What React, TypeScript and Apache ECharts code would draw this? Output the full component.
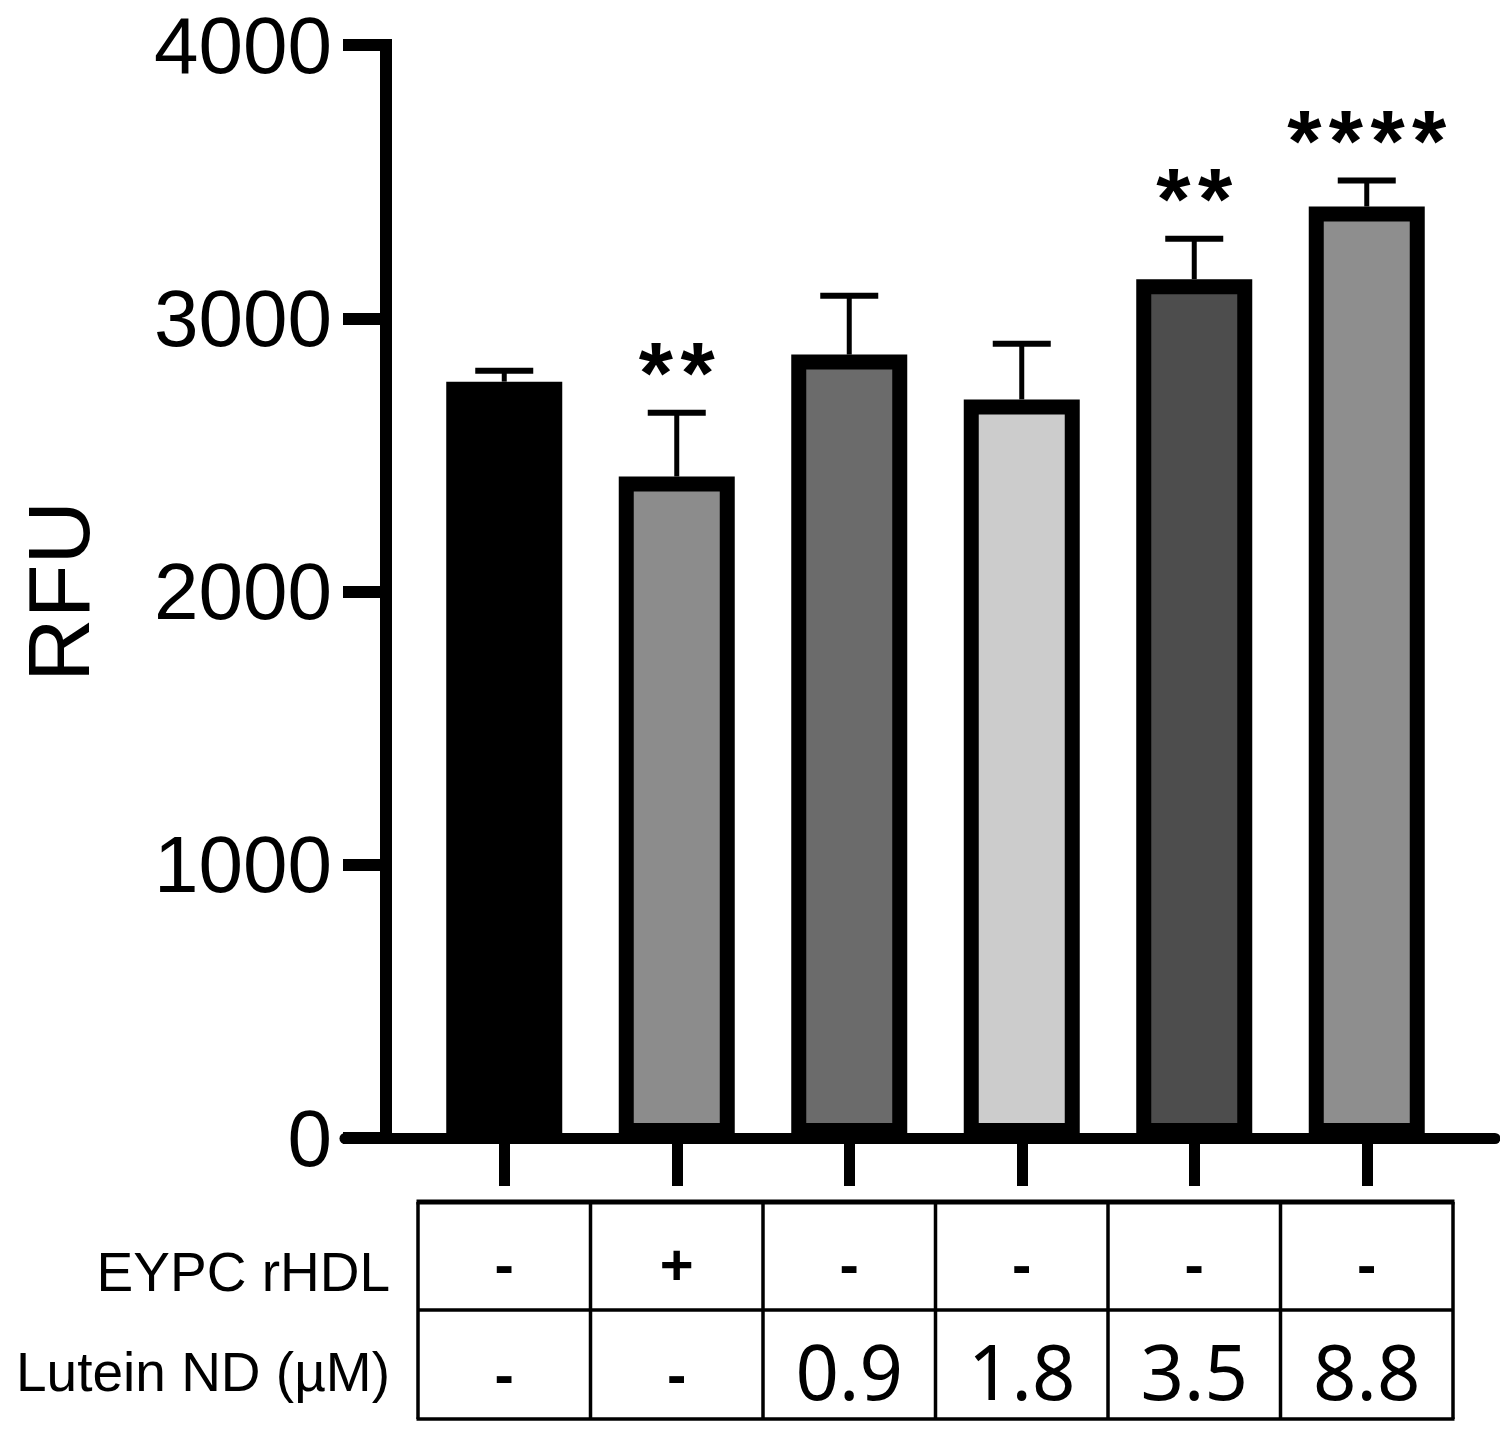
import React, { useEffect, useRef } from "react";
import * as echarts from "echarts";

// ---- data ----
const categories = ["Control", "EYPC rHDL", "Lutein 0.9", "Lutein 1.8", "Lutein 3.5", "Lutein 8.8"];
const means = [2768, 2421, 2867, 2703, 3143, 3409];
const sems = [40, 233, 215, 204, 148, 95];
const stars = ["", "**", "", "", "**", "****"];
const barColors = ["#000000", "#8c8c8c", "#6b6b6b", "#cccccc", "#4d4d4d", "#8e8e8e"];
const eypcRow = ["-", "+", "-", "-", "-", "-"];
const luteinRow = ["-", "-", "0.9", "1.8", "3.5", "8.8"];
const rowLabels = ["EYPC rHDL", "Lutein ND (\u00b5M)"];
const yTicks = [0, 1000, 2000, 3000, 4000];

const FONT = "'Liberation Sans', Arial, sans-serif";

export default function App() {
  const ref = useRef<HTMLDivElement>(null);
  useEffect(() => {
    document.body.style.margin = "0";
    const chart = echarts.init(ref.current!, null, { renderer: "svg" });
    const option: any = {
      animation: false,
      backgroundColor: "#ffffff",
      grid: [
        { left: 418, right: 47, top: 45, bottom: 292 },
        { left: 345, right: 5, top: 45, bottom: 292 },
      ],
      xAxis: [
        {
          type: "category",
          gridIndex: 0,
          data: categories,
          axisLine: { show: false },
          axisTick: { show: true, alignWithLabel: true, length: 48, lineStyle: { color: "#000", width: 11 } },
          axisLabel: { show: false },
          splitLine: { show: false },
        },
        {
          type: "value",
          gridIndex: 1,
          min: 0,
          max: 1,
          axisLine: { show: true, lineStyle: { color: "#000", width: 11 } },
          axisTick: { show: false },
          axisLabel: { show: false },
          splitLine: { show: false },
        },
      ],
      yAxis: [
        {
          type: "value",
          gridIndex: 0,
          min: yTicks[0],
          max: yTicks[yTicks.length - 1],
          interval: 1000,
          offset: 32,
          name: "RFU",
          nameLocation: "middle",
          nameRotate: 90,
          nameGap: 284,
          nameMoveOverlap: false,
          nameTextStyle: { fontFamily: FONT, fontSize: 88, color: "#000" },
          axisLine: { show: true, lineStyle: { color: "#000", width: 12, cap: "square" } },
          axisTick: { show: true, length: 43, lineStyle: { color: "#000", width: 12 } },
          axisLabel: { margin: 54, fontFamily: FONT, fontSize: 80, lineHeight: 62, color: "#000", formatter: (v: number) => String(v) },
          splitLine: { show: false },
        },
        {
          type: "value",
          gridIndex: 1,
          show: false,
        },
      ],
      series: [
        {
          type: "bar",
          xAxisIndex: 0,
          yAxisIndex: 0,
          barWidth: 116,
          data: means.map((v, i) => ({
            value: v,
            itemStyle: { color: barColors[i], borderColor: "#000", borderWidth: 15 },
          })),
          z: 2,
        },
        {
          type: "custom",
          xAxisIndex: 0,
          yAxisIndex: 0,
          z: 3,
          data: means.map((m, i) => [i, m, m + sems[i]]),
          renderItem: (params: any, api: any) => {
            const i = api.value(0);
            const p0 = api.coord([i, api.value(1)]);
            const p1 = api.coord([i, api.value(2)]);
            const children: any[] = [
              { type: "line", shape: { x1: p0[0], y1: p0[1], x2: p1[0], y2: p1[1] }, style: { stroke: "#000", lineWidth: 5 } },
              { type: "line", shape: { x1: p1[0] - 29, y1: p1[1], x2: p1[0] + 29, y2: p1[1] }, style: { stroke: "#000", lineWidth: 6 } },
            ];
            const s = stars[params.dataIndex];
            if (s) {
              children.push({
                type: "text",
                x: p1[0],
                y: p1[1] - 40,
                style: { text: s.split("").join("\u200a"), align: "center", verticalAlign: "middle", fontSize: 88, fontWeight: "bold", fontFamily: FONT, fill: "#000" },
              });
            }
            return { type: "group", children };
          },
        },
      ],
    };
    chart.setOption(option);

    // table under the axis, aligned to category positions
    const centers = categories.map((_, i) => chart.convertToPixel({ xAxisIndex: 0 }, i) as number);
    const band = centers[1] - centers[0];
    const left = centers[0] - band / 2;
    const right = centers[centers.length - 1] + band / 2;
    const top = 1202;
    const mid = 1310;
    const bottom = 1419;
    const els: any[] = [];
    els.push({ type: "line", shape: { x1: left - 1.5, y1: top, x2: right + 1.5, y2: top }, style: { stroke: "#000", lineWidth: 5 } });
    els.push({ type: "line", shape: { x1: left, y1: mid, x2: right, y2: mid }, style: { stroke: "#000", lineWidth: 3.5 } });
    els.push({ type: "line", shape: { x1: left - 1.5, y1: bottom, x2: right + 1.5, y2: bottom }, style: { stroke: "#000", lineWidth: 3.5 } });
    for (let k = 0; k <= categories.length; k++) {
      const x = left + k * band;
      els.push({ type: "line", shape: { x1: x, y1: top, x2: x, y2: bottom }, style: { stroke: "#000", lineWidth: 3.5 } });
    }
    centers.forEach((cx, i) => {
      els.push({
        type: "text",
        x: cx,
        y: 1264,
        style: { text: eypcRow[i], align: "center", verticalAlign: "middle", fontSize: 58, fontWeight: "bold", fontFamily: FONT, fill: "#000" },
      });
      const isNum = luteinRow[i] !== "-";
      els.push({
        type: "text",
        x: cx,
        y: isNum ? 1370 : 1374,
        style: {
          text: luteinRow[i],
          align: "center",
          verticalAlign: "middle",
          fontSize: isNum ? 76 : 58,
          fontWeight: isNum ? "normal" : "bold",
          fontFamily: isNum ? "'Noto Sans', sans-serif" : FONT,
          fill: "#000",
        },
      });
    });
    els.push({ type: "text", x: 390, y: 1272, style: { text: rowLabels[0], align: "right", verticalAlign: "middle", fontSize: 55, fontFamily: FONT, fill: "#000" } });
    els.push({ type: "text", x: 390, y: 1372, style: { text: rowLabels[1], align: "right", verticalAlign: "middle", fontSize: 55, fontFamily: FONT, fill: "#000" } });
    chart.setOption({ graphic: els });

    return () => chart.dispose();
  }, []);
  return <div ref={ref} style={{ position: "absolute", left: 0, top: 0, width: 1500, height: 1430 }} />;
}
